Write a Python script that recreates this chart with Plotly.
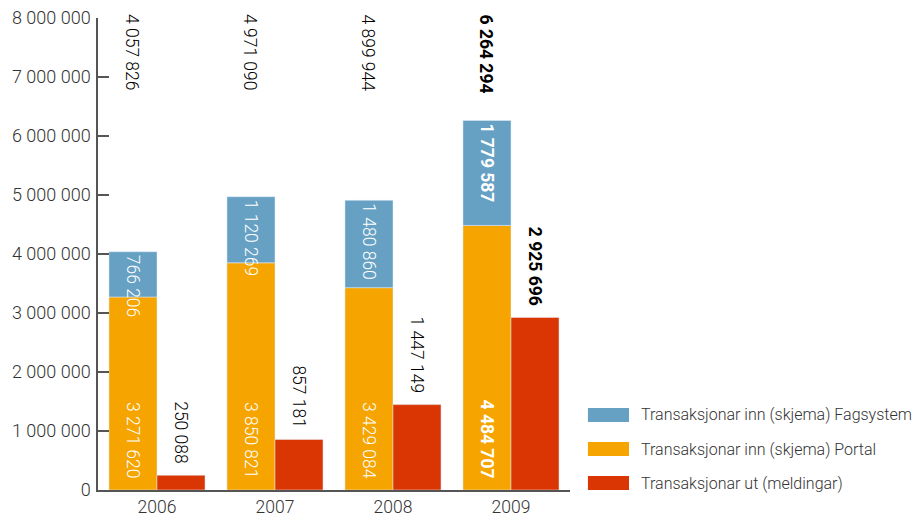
import plotly.graph_objects as go

years = ["2006", "2007", "2008", "2009"]
portal = [3271620, 3850821, 3429084, 4484707]
fagsystem = [766206, 1120269, 1480860, 1779587]
meldingar = [250088, 857181, 1447149, 2925696]
totals = [4057826, 4971090, 4899944, 6264294]
bold_year = "2009"
y_ticks = [0, 1000000, 2000000, 3000000, 4000000, 5000000, 6000000, 7000000, 8000000]

names = ["Transaksjonar inn (skjema) Fagsystem",
         "Transaksjonar inn (skjema) Portal",
         "Transaksjonar ut (meldingar)"]
colors = ["#66A1C4", "#F5A400", "#DA3604"]

FONT = "Roboto"
TXT = "#333333"
BW = 0.407  # bar width in category units
PAD = "\u00a0\u00a0"  # trailing padding for rotated labels
LBL = 17.5


def fmt(v, y=None):
    s = f"{v:,}".replace(",", " ")
    return f"<b>{s}</b>" if y == bold_year else s


fig = go.Figure()

fig.add_trace(go.Bar(
    x=years, y=portal, name=names[1], marker_color=colors[1],
    width=BW, offset=-BW,
    text=[fmt(v, y) + PAD for v, y in zip(portal, years)], textposition="inside",
    insidetextanchor="start", textangle=90, constraintext="none",
    textfont=dict(family=FONT, size=LBL, color="white", weight=300),
    showlegend=False,
))
fig.add_trace(go.Bar(
    x=years, y=fagsystem, base=portal, name=names[0], marker_color=colors[0],
    width=BW, offset=-BW,
    text=[fmt(v, y) for v, y in zip(fagsystem, years)], textposition="inside",
    insidetextanchor="end", textangle=90, constraintext="none",
    textfont=dict(family=FONT, size=LBL, color="white", weight=300),
    showlegend=False,
))
fig.add_trace(go.Bar(
    x=years, y=meldingar, name=names[2], marker_color=colors[2],
    width=BW, offset=0,
    text=[fmt(v, y) + PAD for v, y in zip(meldingar, years)], textposition="outside",
    textangle=90, constraintext="none", cliponaxis=False,
    textfont=dict(family=FONT, size=LBL, color="black", weight=300),
    showlegend=False,
))

for i, (y, t) in enumerate(zip(years, totals)):
    fig.add_annotation(
        x=i, y=1, xref="x", yref="paper", xshift=-25, yshift=6,
        yanchor="top", xanchor="center", showarrow=False, textangle=90,
        text=fmt(t, y), font=dict(family=FONT, size=LBL, color="black", weight=300),
    )

# manual legend
for i, (n, c) in enumerate(zip(names, colors)):
    yc = 0.159 - i * 0.0722
    fig.add_shape(type="rect", xref="paper", yref="paper",
                  x0=1.038, x1=1.125, y0=yc - 0.0148, y1=yc + 0.0148,
                  fillcolor=c, line_width=0)
    fig.add_annotation(x=1.146, y=yc, xref="paper", yref="paper",
                       xanchor="left", yanchor="middle", showarrow=False,
                       text=n, font=dict(family=FONT, size=16, color=TXT, weight=300))

fig.update_layout(
    width=915, height=509,
    margin=dict(l=90, r=353, t=10, b=27, autoexpand=False),
    barmode="overlay",
    plot_bgcolor="white", paper_bgcolor="white",
    font=dict(family=FONT, color=TXT, size=17, weight=300),
    xaxis=dict(type="category", range=[-0.5, 3.5], showline=True,
               linecolor="#555555", linewidth=1.5,
               ticks="", tickfont=dict(size=17.5, color=TXT, weight=300), showgrid=False),
    yaxis=dict(range=[0, 8000000], tickvals=y_ticks,
               ticktext=[fmt(v) for v in y_ticks], ticklabeloverflow="allow",
               showline=True, linecolor="#555555", linewidth=1.5,
               ticks="inside", ticklen=11, tickcolor="#555555", tickwidth=1.5,
               ticklabelstandoff=2,
               showgrid=False, zeroline=False,
               tickfont=dict(size=18, color=TXT, weight=300)),
)

fig.write_html("out.html")
